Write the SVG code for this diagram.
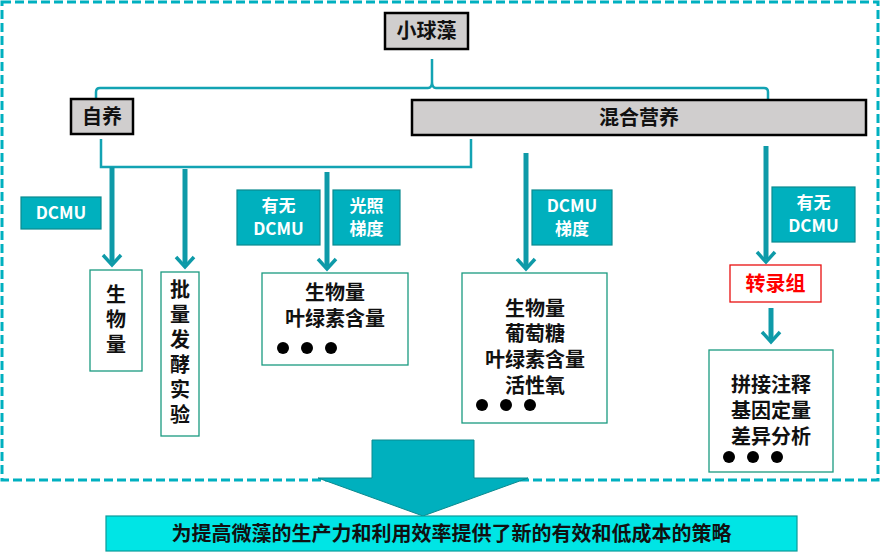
<svg xmlns="http://www.w3.org/2000/svg" width="881" height="552" viewBox="0 0 881 552">
<style>
text{font-family:"Noto Sans CJK SC","Noto Sans",sans-serif;font-weight:bold;font-size:20px;fill:#111;text-anchor:middle}
.g{fill:#D0CECE;stroke:#000;stroke-width:2.5}
.lab{fill:#00B0BE;stroke:#0a8a8f;stroke-width:1.2}
.w{fill:#fff;font-size:17px}
.res{fill:#fff;stroke:#1a9a80;stroke-width:1.3}
.ln{fill:none;stroke:#13a3b3;stroke-width:2.5}
.ar{stroke:#0e9aa8;stroke-width:5;fill:none}
.hd{stroke:#0e9aa8;stroke-width:3.5;fill:none}
</style>
<rect x="2" y="2" width="876" height="478" fill="none" stroke="#00B0C0" stroke-width="3" stroke-dasharray="9,4"/>
<g id="connectors">
<path class="ln" d="M96,100 V92 Q96,88 100,88 H428 Q432,88 432,82 V59 M432,82 Q432,88 436,88 H764 Q768,88 768,92 V100"/>
<path class="ln" d="M101,139 V167 H471 V139"/>
<line class="ar" x1="112" y1="167" x2="112" y2="262"/><path class="hd" d="M103,255 L112,265 L121,255"/>
<line class="ar" x1="185" y1="169" x2="185" y2="264"/><path class="hd" d="M176,257 L185,267 L194,257"/>
<line class="ar" x1="327" y1="172" x2="327" y2="266"/><path class="hd" d="M318,259 L327,269 L336,259"/>
<line class="ar" x1="526" y1="153" x2="526" y2="266"/><path class="hd" d="M517,259 L526,269 L535,259"/>
<line class="ar" x1="766" y1="146" x2="766" y2="259"/><path class="hd" d="M757,252 L766,262 L775,252"/>
<line class="ar" x1="771" y1="308" x2="771" y2="339"/><path class="hd" d="M762,332 L771,342 L780,332"/>
<polygon points="372,440 474,440 474,478 528,478 423,516 318,478 372,478" fill="#00B0BE" stroke="#0a8a8f" stroke-width="1"/>
</g>
<g id="n-root"><rect class="g" x="385" y="13" width="83" height="36"/><text x="426.5" y="38">小球藻</text></g>
<g id="n-auto"><rect class="g" x="71" y="99" width="62" height="35"/><text x="102" y="124">自养</text></g>
<g id="n-mix"><rect class="g" x="412" y="100" width="454" height="35"/><text x="639" y="125">混合营养</text></g>
<g id="l1"><rect class="lab" x="21" y="197" width="80" height="32"/><text class="w" x="61" y="219">DCMU</text></g>
<g id="l2"><rect class="lab" x="237" y="190" width="83" height="55"/><text class="w" x="278.5" y="212">有无</text><text class="w" x="278.5" y="235">DCMU</text></g>
<g id="l3"><rect class="lab" x="333" y="190" width="67" height="55"/><text class="w" x="366.5" y="212">光照</text><text class="w" x="366.5" y="235">梯度</text></g>
<g id="l4"><rect class="lab" x="532" y="190" width="80" height="55"/><text class="w" x="572" y="212">DCMU</text><text class="w" x="572" y="235">梯度</text></g>
<g id="l5"><rect class="lab" x="772" y="187" width="83" height="55"/><text class="w" x="813.5" y="209">有无</text><text class="w" x="813.5" y="232">DCMU</text></g>
<g id="r1"><rect class="res" x="90" y="270" width="52" height="101"/><text x="116" y="302">生</text><text x="116" y="327">物</text><text x="116" y="352">量</text></g>
<g id="r2"><rect class="res" x="161" y="272" width="38" height="164"/><text x="180" y="297">批</text><text x="180" y="322">量</text><text x="180" y="347">发</text><text x="180" y="372">酵</text><text x="180" y="397">实</text><text x="180" y="422">验</text></g>
<g id="r3"><rect class="res" x="262" y="273" width="146" height="92"/><text x="335" y="300">生物量</text><text x="335" y="326">叶绿素含量</text>
<circle cx="283" cy="348" r="6"/><circle cx="307" cy="348" r="6"/><circle cx="331" cy="348" r="6"/></g>
<g id="r4"><rect class="res" x="462" y="273" width="145" height="150"/><text x="535" y="316">生物量</text><text x="535" y="341">葡萄糖</text><text x="535" y="367">叶绿素含量</text><text x="535" y="393">活性氧</text>
<circle cx="482" cy="405" r="6"/><circle cx="506" cy="405" r="6"/><circle cx="530" cy="405" r="6"/></g>
<g id="r5"><rect x="730" y="265" width="91" height="37" fill="#fff" stroke="#e81010" stroke-width="1.3"/><text x="775.5" y="291" style="fill:#f00">转录组</text></g>
<g id="r6"><rect class="res" x="709" y="350" width="124" height="122"/><text x="771" y="392">拼接注释</text><text x="771" y="418">基因定量</text><text x="771" y="444">差异分析</text>
<circle cx="729" cy="457" r="6"/><circle cx="753" cy="457" r="6"/><circle cx="777" cy="457" r="6"/></g>
<g id="bottom"><rect x="106" y="516" width="691" height="35" fill="#00E5E5" stroke="#0a9a9a" stroke-width="1.2"/><text x="451.5" y="541">为提高微藻的生产力和利用效率提供了新的有效和低成本的策略</text></g>
</svg>
